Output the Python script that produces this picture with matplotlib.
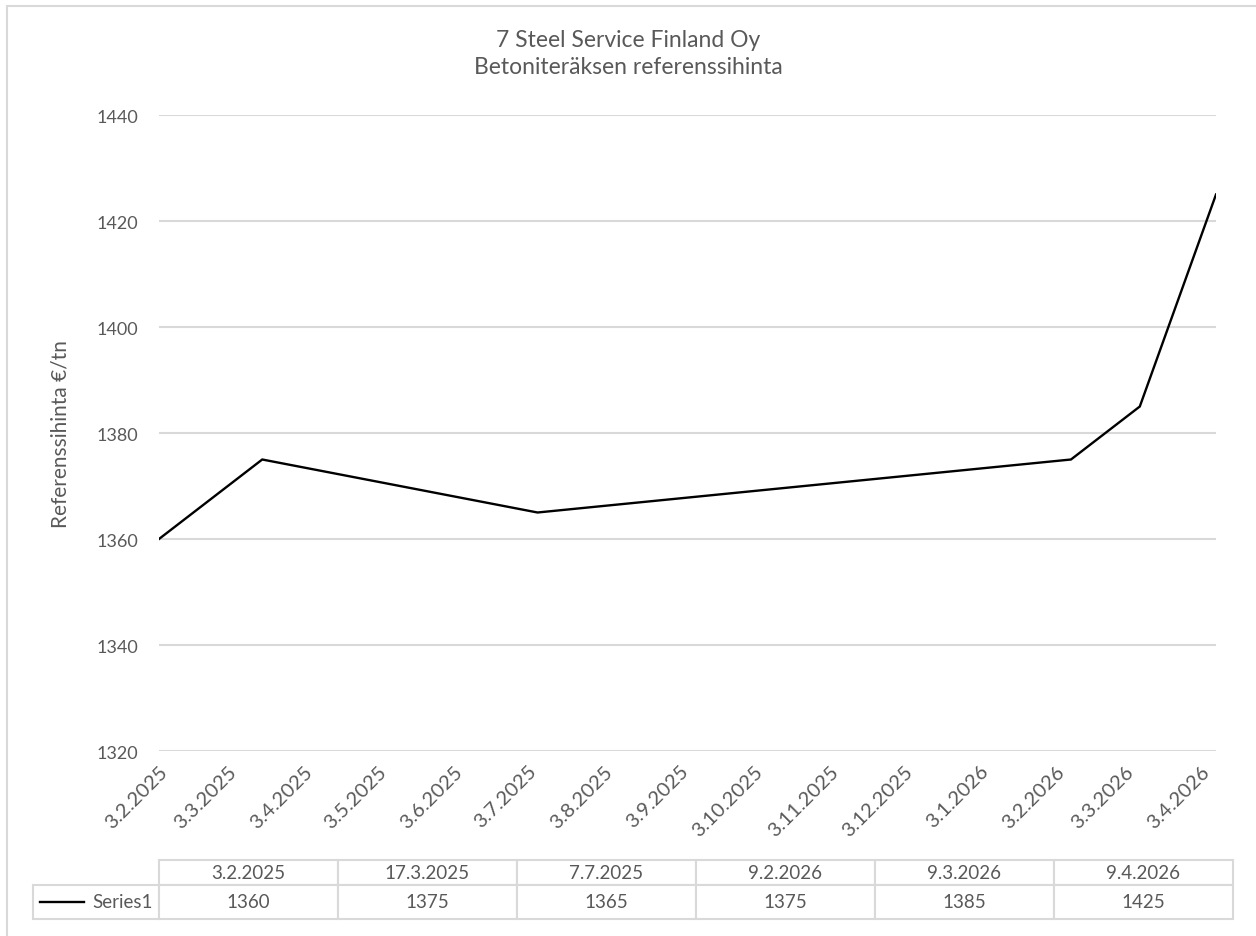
import datetime
import numpy as np
import matplotlib
matplotlib.use("Agg")
import matplotlib.pyplot as plt
import matplotlib.dates as mdates
from matplotlib.patches import Rectangle

# --- Data ---
price_dates = [datetime.date(2025, 2, 3), datetime.date(2025, 3, 17), datetime.date(2025, 7, 7),
               datetime.date(2026, 2, 9), datetime.date(2026, 3, 9), datetime.date(2026, 4, 9)]
prices = [1360, 1375, 1365, 1375, 1385, 1425]
series_name = "Series1"
y_ticks = [1320, 1340, 1360, 1380, 1400, 1420, 1440]

TITLE = "7 Steel Service Finland Oy\nBetoniteräksen referenssihinta"
Y_LABEL = "Referenssihinta €/tn"

# --- Style ---
W, H = 1256, 937
TEXT = "#595959"
GRID = "#d9d9d9"
FONT = "Lato"
plt.rcParams['font.family'] = [FONT, 'DejaVu Sans']


def fmt_date(d):
    return f"{d.day}.{d.month}.{d.year}"


fig = plt.figure(figsize=(W / 100, H / 100), dpi=100)
# plot area in pixels: x 159..1216, y 116..752
L, R, T, B = 159, 1216, 116, 752
ax = fig.add_axes([L / W, 1 - B / H, (R - L) / W, (B - T) / H])

ax.plot(price_dates, prices, color="black", linewidth=1.7, solid_joinstyle="miter")

ax.set_xlim(price_dates[0], price_dates[-1])
ax.set_ylim(y_ticks[0], y_ticks[-1])
ax.set_yticks(y_ticks)
ax.grid(axis="y", color=GRID, linewidth=1.5)
ax.set_axisbelow(True)
for s in ax.spines.values():
    s.set_visible(False)

ax.xaxis.set_major_locator(mdates.MonthLocator(bymonthday=3))
ax.xaxis.set_major_formatter(plt.FuncFormatter(lambda x, pos: fmt_date(mdates.num2date(x))))
ax.tick_params(axis="both", length=0, colors=TEXT)
ax.tick_params(axis="y", pad=15, labelsize=13)
ax.tick_params(axis="x", pad=8, labelsize=14.5)
for lbl in ax.get_xticklabels():
    lbl.set_rotation(45)
    lbl.set_ha("right")
    lbl.set_va("top")
    lbl.set_rotation_mode("anchor")

ax.set_ylabel(Y_LABEL, color=TEXT, fontsize=15, labelpad=19)
fig.text(0.5, 1 - 54 / H, TITLE, ha="center", va="center", color=TEXT,
         fontsize=16.5, linespacing=1.3)

# --- Data table (sizes in pixels, converted to axes fractions) ---
col_w, row_lab_w = 179, 126
head_h, data_h = 25, 34
tbl_top = 861
tbl_bot = tbl_top + head_h + data_h
aw, ah = R - L, B - T
tbl = ax.table(cellText=[[str(v) for v in prices]],
               colLabels=[fmt_date(d) for d in price_dates],
               cellLoc="center",
               bbox=[0, (B - tbl_bot) / ah, len(prices) * col_w / aw, (head_h + data_h) / ah])
# series label cell, left of the values row
tbl.add_cell(1, -1, width=row_lab_w / aw, height=data_h / ah, text=series_name, loc="right")
tbl.auto_set_font_size(False)
tbl.set_fontsize(13.5)
for (r, c), cell in tbl.get_celld().items():
    cell.set_edgecolor(GRID)
    cell.set_linewidth(1.5)
    cell.get_text().set_color(TEXT)
    cell.set_width((row_lab_w if c == -1 else col_w) / aw)
    cell.set_height((head_h if r == 0 else data_h) / ah)
    if c == -1:
        cell.PAD = 0.05

# legend key line in the row-label cell
key_y = (B - (tbl_bot - data_h / 2)) / ah
ax.plot([(40 - L) / aw, (84 - L) / aw], [key_y, key_y], color="black",
        linewidth=1.7, transform=ax.transAxes, clip_on=False)

# chart area border
fig.patches.append(Rectangle((7 / W, -0.05), 1.1, 1 - 7 / H + 0.05, transform=fig.transFigure,
                             fill=False, edgecolor=GRID, linewidth=1.5))

fig.savefig("out.png", dpi=100, facecolor="white")
